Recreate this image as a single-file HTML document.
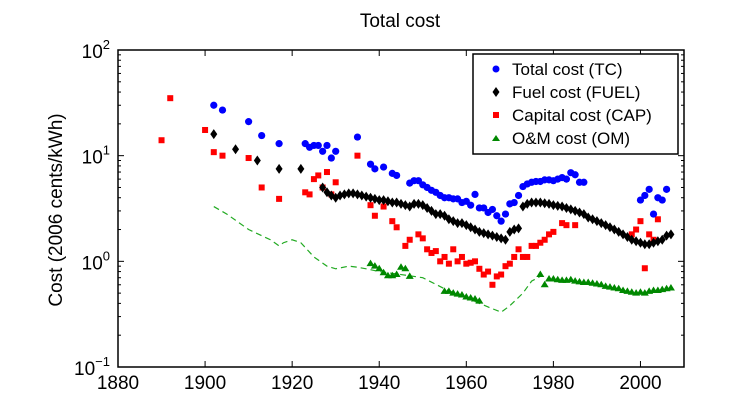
<!DOCTYPE html>
<html><head><meta charset="utf-8"><style>
body{margin:0;background:#fff;}
svg{display:block;font-family:"Liberation Sans",sans-serif;}
</style></head><body>
<svg id="chart" width="740" height="416">
<text x="400" y="27" text-anchor="middle" font-size="19">Total cost</text>
<text transform="translate(62,210) rotate(-90)" text-anchor="middle" font-size="19">Cost (2006 cents/kWh)</text>
<g id="plot"></g>
<g id="axes"></g>
<g>
<rect x="473" y="54" width="205" height="100" fill="#fff" stroke="#000" stroke-width="1.5"/>
<g><circle cx="496" cy="69" r="3.5" fill="#0000ff"/><text x="512" y="75" font-size="17">Total cost (TC)</text></g>
<g><path d="M496 87 l3.5 5 l-3.5 5 l-3.5 -5z" fill="#000"/><text x="512" y="98" font-size="17">Fuel cost (FUEL)</text></g>
<g><rect x="493" y="112" width="6" height="6" fill="#ff0000"/><text x="512" y="121" font-size="17">Capital cost (CAP)</text></g>
<g><path d="M496 135 l4 6 h-8z" fill="#008800"/><text x="512" y="144" font-size="17">O&amp;M cost (OM)</text></g>
</g>
</svg>
<script>
const tcYears=[1902,1904,1910,1913,1917,1923,1924,1925,1926,1927,1928,1929,1930,1935,1938,1939,1941,1943,1944,1947,1948,1949,1950,1951,1952,1953,1954,1955,1956,1957,1958,1959,1960,1961,1962,1963,1964,1965,1966,1967,1968,1969,1970,1971,1972,1973,1974,1975,1976,1977,1978,1979,1980,1981,1982,1983,1984,1985,1986,1987,2000,2001,2002,2003,2004,2005,2006];
const tcValues=[30,27,21,15.5,13,13,12,12.5,12.5,11,12.5,9.5,11,15,8.3,7.5,7.8,6.8,6.5,5.5,5.8,5.8,5.3,5.0,4.7,4.5,4.2,4.0,4.0,3.9,3.9,3.6,3.7,3.4,4.3,3.2,3.2,2.9,3.1,2.7,2.4,2.8,3.5,3.6,4.2,5.1,5.4,5.6,5.7,5.7,5.9,5.9,5.8,6.0,6.2,6.0,6.9,6.6,5.6,5.6,3.8,4.2,4.8,2.8,4.0,3.8,4.8];
const fuelYears=[1902,1907,1912,1917,1922,1927,1928,1929,1930,1931,1932,1933,1934,1935,1936,1937,1938,1939,1940,1941,1942,1943,1944,1945,1946,1947,1948,1949,1950,1951,1952,1953,1954,1955,1956,1957,1958,1959,1960,1961,1962,1963,1964,1965,1966,1967,1968,1969,1970,1971,1972,1973,1974,1975,1976,1977,1978,1979,1980,1981,1982,1983,1984,1985,1986,1987,1988,1989,1990,1991,1992,1993,1994,1995,1996,1997,1998,1999,2000,2001,2002,2003,2004,2005,2006,2007];
const fuelValues=[16,11.5,9,7.5,7.5,5.0,4.5,4.2,4.0,4.2,4.3,4.4,4.4,4.3,4.2,4.1,4.0,3.9,3.8,3.8,3.7,3.6,3.6,3.5,3.4,3.3,3.5,3.5,3.4,3.2,3.0,2.8,2.8,2.7,2.5,2.4,2.3,2.3,2.2,2.1,2.0,1.9,1.85,1.8,1.75,1.7,1.65,1.6,1.9,2.0,2.05,3.3,3.5,3.6,3.6,3.6,3.55,3.5,3.4,3.35,3.3,3.2,3.1,3.0,2.9,2.8,2.6,2.5,2.4,2.3,2.2,2.1,2.0,1.9,1.8,1.7,1.6,1.55,1.5,1.45,1.45,1.5,1.55,1.6,1.75,1.8];
const capYears=[1890,1892,1900,1902,1904,1910,1913,1917,1923,1924,1925,1926,1927,1928,1929,1930,1935,1938,1939,1941,1943,1944,1946,1947,1949,1950,1951,1952,1953,1954,1955,1956,1957,1958,1959,1960,1961,1962,1963,1964,1965,1966,1967,1968,1969,1970,1971,1972,1973,1974,1975,1976,1977,1978,1979,1980,1982,1983,1985,1998,1999,2000,2001,2002,2003,2004];
const capValues=[14,35,17.5,10.8,10,9.5,5,3.9,4.5,4.3,6,6.5,5,7,4.3,5.6,10,3.4,2.7,3.3,2.4,2.1,1.4,1.6,1.8,1.65,1.3,1.2,1.25,1.0,1.1,0.95,1.3,1.0,1.1,0.95,0.97,1.0,0.85,0.75,0.8,0.6,0.72,0.75,0.9,0.95,1.1,1.3,1.1,1.1,1.4,1.4,1.5,1.6,1.8,1.9,2.3,2.2,2.2,1.8,2.0,2.4,0.86,1.8,1.6,2.5];
const omYears=[1938,1939,1940,1941,1942,1943,1944,1945,1946,1947,1955,1956,1957,1958,1959,1960,1961,1962,1963,1977,1978,1979,1980,1981,1982,1983,1984,1985,1986,1987,1988,1989,1990,1991,1992,1993,1994,1995,1996,1997,1998,1999,2000,2001,2002,2003,2004,2005,2006,2007];
const omValues=[0.95,0.9,0.85,0.78,0.73,0.73,0.75,0.88,0.85,0.72,0.52,0.52,0.5,0.49,0.48,0.46,0.45,0.44,0.42,0.75,0.6,0.68,0.68,0.67,0.66,0.66,0.67,0.65,0.64,0.63,0.63,0.62,0.61,0.6,0.58,0.57,0.56,0.55,0.53,0.52,0.51,0.5,0.51,0.5,0.52,0.53,0.53,0.54,0.55,0.56];
const lineYears=[1902,1905,1910,1915,1917,1918,1920,1922,1925,1928,1930,1933,1935,1937,1940,1945,1950,1955,1960,1965,1968,1970,1973,1975,1977];
const lineValues=[3.3,2.8,2.0,1.6,1.4,1.5,1.6,1.5,1.1,0.9,0.85,0.9,0.88,0.85,0.8,0.75,0.7,0.55,0.45,0.37,0.33,0.38,0.5,0.65,0.72];
const xTicks=[1880,1900,1920,1940,1960,1980,2000];
const yTickExps=[-1,0,1,2];

const L=118,R=684,T=50,B=367,X0=1880,X1=2010;
const xs=y=>L+(y-X0)/(X1-X0)*(R-L);
const ys=v=>B-(Math.log10(v)+1)/3*(B-T);
const NS='http://www.w3.org/2000/svg';
const plot=document.getElementById('plot'),axes=document.getElementById('axes');
function mk(tag,attrs,parent){const e=document.createElementNS(NS,tag);for(const k in attrs)e.setAttribute(k,attrs[k]);parent.appendChild(e);return e;}

const dl=mk('polyline',{points:lineYears.map((y,i)=>xs(y)+','+ys(lineValues[i])).join(' '),fill:'none',stroke:'#22aa22','stroke-width':1.2,'stroke-dasharray':'6,4'},plot);



omYears.forEach((y,i)=>{const x=xs(y),v=ys(omValues[i]);
const p=mk('path',{d:`M${x} ${v-4} l4 6.5 h-8z`,fill:'#008800'},plot);

});
capYears.forEach((y,i)=>{const x=xs(y),v=ys(capValues[i]);
const p=mk('rect',{x:x-3,y:v-3,width:6,height:6,fill:'#ff0000'},plot);

});
fuelYears.forEach((y,i)=>{const x=xs(y),v=ys(fuelValues[i]);
const p=mk('path',{d:`M${x} ${v-5} l3.5 5 l-3.5 5 l-3.5 -5z`,fill:'#000'},plot);

});
tcYears.forEach((y,i)=>{
const p=mk('circle',{cx:xs(y),cy:ys(tcValues[i]),r:3.6,fill:'#0000ff'},plot);

});

const fr=mk('rect',{x:L,y:T,width:R-L,height:B-T,fill:'none',stroke:'#000','stroke-width':1.5},axes);


xTicks.forEach(t=>{const x=xs(t);
mk('line',{x1:x,x2:x,y1:B,y2:B-6,stroke:'#000'},axes);
mk('line',{x1:x,x2:x,y1:T,y2:T+6,stroke:'#000'},axes);
const tx=mk('text',{x:x,y:B+22,'text-anchor':'middle','font-size':19},axes);tx.textContent=t;

});
yTickExps.forEach(e=>{const y=ys(Math.pow(10,e));
mk('line',{x1:L,x2:L+6,y1:y,y2:y,stroke:'#000'},axes);
mk('line',{x1:R,x2:R-6,y1:y,y2:y,stroke:'#000'},axes);
if(e<2)for(let m=2;m<10;m++){const yy=ys(m*Math.pow(10,e));
mk('line',{x1:L,x2:L+3,y1:yy,y2:yy,stroke:'#000'},axes);
mk('line',{x1:R,x2:R-3,y1:yy,y2:yy,stroke:'#000'},axes);}
const tx=mk('text',{x:L-8,y:y+8,'text-anchor':'end','font-size':19},axes);
tx.innerHTML='10<tspan dy="-9" font-size="13">'+(e<0?'\u2212'+(-e):e)+'</tspan>';

});
</script>
</body></html>
